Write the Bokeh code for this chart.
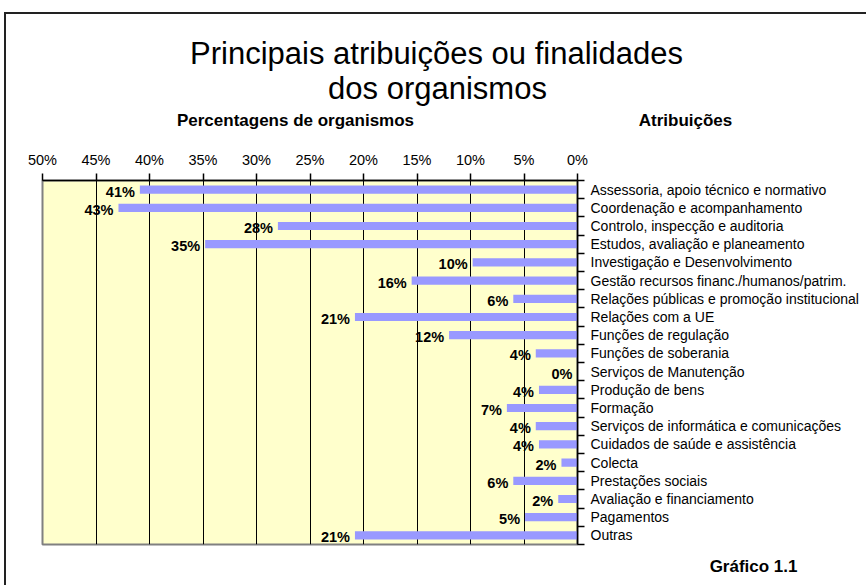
from bokeh.plotting import figure
from bokeh.layouts import column
from bokeh.models import (Range1d, FixedTicker, PrintfTickFormatter, Label, Title,
                          ColumnDataSource, GlobalInlineStyleSheet)
from bokeh.core.properties import value
from bokeh.embed import file_html
from bokeh.resources import INLINE

# ---------------- data ----------------
categories = [
    "Assessoria, apoio técnico e normativo",
    "Coordenação e acompanhamento",
    "Controlo, inspecção e auditoria",
    "Estudos, avaliação e planeamento",
    "Investigação e Desenvolvimento",
    "Gestão recursos financ./humanos/patrim.",
    "Relações públicas e promoção institucional",
    "Relações com a UE",
    "Funções de regulação",
    "Funções de soberania",
    "Serviços de Manutenção",
    "Produção de bens",
    "Formação",
    "Serviços de informática e comunicações",
    "Cuidados de saúde e assistência",
    "Colecta",
    "Prestações sociais",
    "Avaliação e financiamento",
    "Pagamentos",
    "Outras",
]
values = [40.9, 42.9, 28.0, 34.8, 9.8, 15.5, 6.0, 20.8, 12.0, 3.9,
          0.0, 3.6, 6.6, 3.9, 3.6, 1.5, 6.0, 1.8, 4.9, 20.8]
value_labels = ["41%", "43%", "28%", "35%", "10%", "16%", "6%", "21%", "12%", "4%",
                "0%", "4%", "7%", "4%", "4%", "2%", "6%", "2%", "5%", "21%"]
x_ticks = [0, 5, 10, 15, 20, 25, 30, 35, 40, 45, 50]

title_line1 = "Principais atribuições ou finalidades"
title_line2 = "dos organismos"
left_heading = "Percentagens de organismos"
right_heading = "Atribuições"
footer = "Gráfico 1.1"

FONT = "Liberation Sans"
W = 866
HEADER_H = 136

# ---------------- header (titles) ----------------
hdr = figure(width=W, height=HEADER_H, output_backend="svg", toolbar_location=None,
             x_range=Range1d(0, W), y_range=Range1d(HEADER_H, 0),
             x_axis_type=None, y_axis_type=None, min_border=0)
hdr.frame_align = False
hdr.outline_line_color = None
hdr.grid.grid_line_color = None
hdr.background_fill_color = "white"
hdr.border_fill_color = "white"


def add_label(txt, x, y, size, bold=False):
    hdr.add_layout(Label(x=x, y=y, text=txt, text_align="center",
                         text_baseline="alphabetic", text_font=FONT,
                         text_font_size=size,
                         text_font_style="bold" if bold else "normal",
                         text_color="black"))


add_label(title_line1, 436, 53, "31px")
add_label(title_line2, 437, 88, "31px")
add_label(left_heading, 295, 120, "17px", bold=True)
add_label(right_heading, 685, 120, "17px", bold=True)

# ---------------- main chart ----------------
idx = list(range(len(categories)))
src = ColumnDataSource(dict(y=idx, v=values, lab=value_labels))

p = figure(width=W, height=585 - HEADER_H, output_backend="svg", toolbar_location=None,
           x_range=Range1d(50, 0), y_range=Range1d(len(categories) - 0.5, -0.5),
           x_axis_location="above", y_axis_location="right",
           min_border_left=42, min_border_right=289, min_border_top=180 - HEADER_H,
           min_border_bottom=40)
p.frame_align = False
p.background_fill_color = "#FFFFCC"
p.border_fill_color = "white"
p.outline_line_color = "#808080"
p.outline_line_width = 2

p.ygrid.grid_line_color = None
p.xgrid.ticker = FixedTicker(ticks=x_ticks[1:-1])
p.xgrid.grid_line_color = "black"
p.xgrid.grid_line_width = 1

xa = p.xaxis[0]
xa.ticker = FixedTicker(ticks=x_ticks)
xa.formatter = PrintfTickFormatter(format="%d%%")
xa.major_tick_out = 7
xa.major_tick_in = 0
xa.minor_tick_line_color = None
xa.axis_line_color = "black"
xa.axis_line_width = 1.5
xa.major_tick_line_color = "black"
xa.major_tick_line_width = 1.5
xa.major_label_standoff = 6
xa.major_label_text_font = FONT
xa.major_label_text_font_size = "14.5px"
xa.major_label_text_color = "black"

ya = p.yaxis[0]
ya.ticker = FixedTicker(ticks=idx, minor_ticks=[i - 0.5 for i in range(len(categories) + 1)])
ya.major_label_overrides = {i: c for i, c in zip(idx, categories)}
ya.major_tick_line_color = None
ya.major_tick_out = 0
ya.major_tick_in = 0
ya.minor_tick_out = 7
ya.minor_tick_in = 0
ya.minor_tick_line_color = "black"
ya.minor_tick_line_width = 1.5
ya.axis_line_color = "black"
ya.axis_line_width = 1.5
ya.major_label_standoff = 6
ya.major_label_text_font = FONT
ya.major_label_text_font_size = "14px"
ya.major_label_text_color = "black"

p.hbar(y="y", left=0, right="v", height=0.45, source=src,
       fill_color="#9999FF", line_color=None)
p.text(x="v", y="y", text="lab", source=src, text_align="right",
       text_baseline="middle", x_offset=-5, y_offset=2,
       text_font=value(FONT), text_font_style="bold",
       text_font_size="14.5px", text_color="black")

p.add_layout(Title(text=footer, align="right", offset=-220, standoff=20,
                   text_font=FONT, text_font_size="17px", text_font_style="bold",
                   text_color="black"), "below")

page_css = GlobalInlineStyleSheet(css="html, body { overflow: hidden !important; }")
frame_css = """
:host { position: relative; overflow: hidden; }
:host::before {
  content: ""; position: absolute; left: 4px; top: 12px;
  width: 2px; height: 2000px; background: #222; pointer-events: none; z-index: 5;
}
:host::after {
  content: ""; position: absolute; left: 4px; top: 12px;
  width: 2000px; height: 2px; background: #222; pointer-events: none; z-index: 5;
}
"""
layout = column(hdr, p, spacing=0, stylesheets=[page_css, frame_css])

open("out.html", "w").write(file_html(layout, INLINE))
